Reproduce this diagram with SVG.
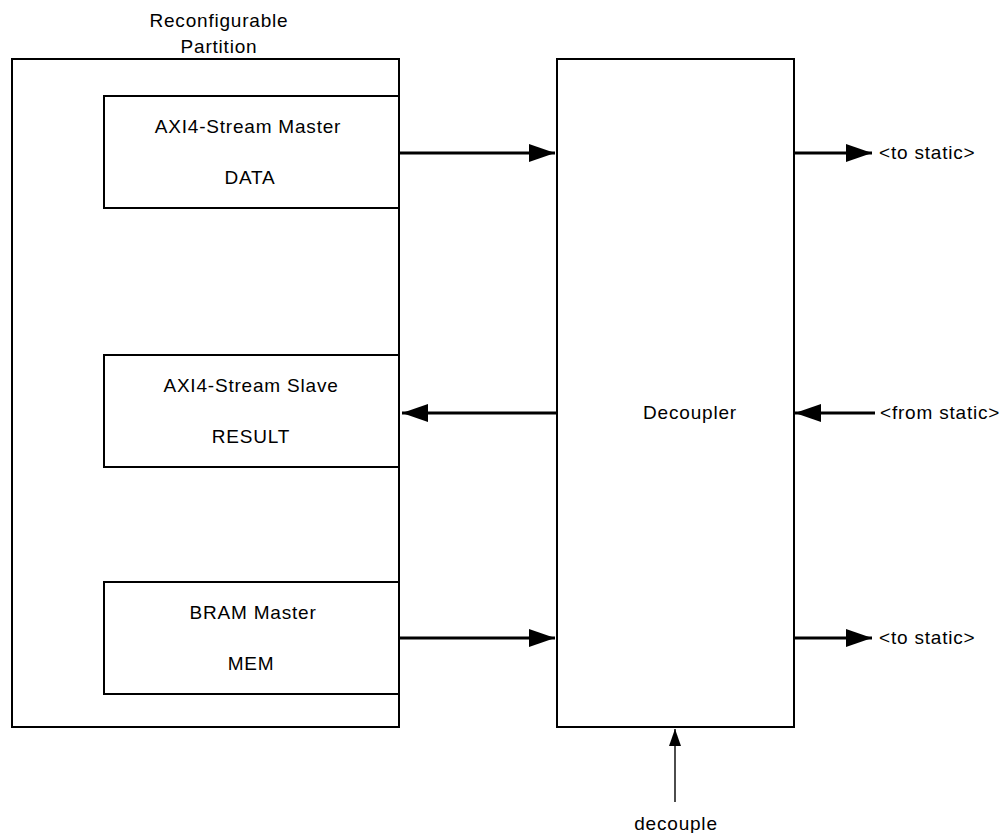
<svg xmlns="http://www.w3.org/2000/svg" width="1004" height="833" viewBox="0 0 1004 833">
<style>
.box{fill:#fff;stroke:#000;stroke-width:2}
.t{font-family:"Liberation Sans",Arial,sans-serif;font-size:19px;fill:#000;text-anchor:middle;letter-spacing:0.8px}
.ts{font-family:"Liberation Sans",Arial,sans-serif;font-size:19px;fill:#000;letter-spacing:0.8px}
.bus{stroke:#000;stroke-width:3;fill:none}
.sig{stroke:#000;stroke-width:1.4;fill:none}
</style>
<defs>
<marker id="ah" markerUnits="userSpaceOnUse" markerWidth="26" markerHeight="18" refX="26" refY="9" orient="auto">
<path d="M0,0 L26,9 L0,18 z" fill="#000"/>
</marker>
<marker id="ahs" markerUnits="userSpaceOnUse" markerWidth="17" markerHeight="12" refX="17" refY="6" orient="auto">
<path d="M0,0 L17,6 L0,12 z" fill="#000"/>
</marker>
</defs>
<g id="rp">
<rect class="box" x="12" y="59" width="387" height="668"/>
<text class="t" x="219" y="27">Reconfigurable</text>
<text class="t" x="219" y="53">Partition</text>
</g>
<g id="data">
<rect class="box" x="104" y="96" width="295" height="112"/>
<text class="t" x="248" y="133">AXI4-Stream Master</text>
<text class="t" x="250" y="184">DATA</text>
</g>
<g id="result">
<rect class="box" x="104" y="355" width="295" height="112"/>
<text class="t" x="251" y="392">AXI4-Stream Slave</text>
<text class="t" x="251" y="443">RESULT</text>
</g>
<g id="mem">
<rect class="box" x="104" y="582" width="295" height="112"/>
<text class="t" x="253" y="619">BRAM Master</text>
<text class="t" x="251" y="670">MEM</text>
</g>
<g id="decoupler">
<rect class="box" x="557" y="59" width="237" height="668"/>
<text class="t" x="690" y="419">Decoupler</text>
</g>
<g id="connectors">
<line class="bus" x1="400" y1="153" x2="555" y2="153" marker-end="url(#ah)"/>
<line class="bus" x1="557" y1="413" x2="402" y2="413" marker-end="url(#ah)"/>
<line class="bus" x1="400" y1="638" x2="555" y2="638" marker-end="url(#ah)"/>
<line class="bus" x1="795" y1="153" x2="872" y2="153" marker-end="url(#ah)"/>
<line class="bus" x1="875" y1="413" x2="795" y2="413" marker-end="url(#ah)"/>
<line class="bus" x1="795" y1="638" x2="872" y2="638" marker-end="url(#ah)"/>
<line class="sig" x1="675" y1="802" x2="675" y2="729" marker-end="url(#ahs)"/>
</g>
<g id="labels">
<text class="ts" x="879" y="159">&lt;to static&gt;</text>
<text class="ts" x="880" y="419">&lt;from static&gt;</text>
<text class="ts" x="879" y="644">&lt;to static&gt;</text>
<text class="t" x="676" y="830">decouple</text>
</g>
</svg>
